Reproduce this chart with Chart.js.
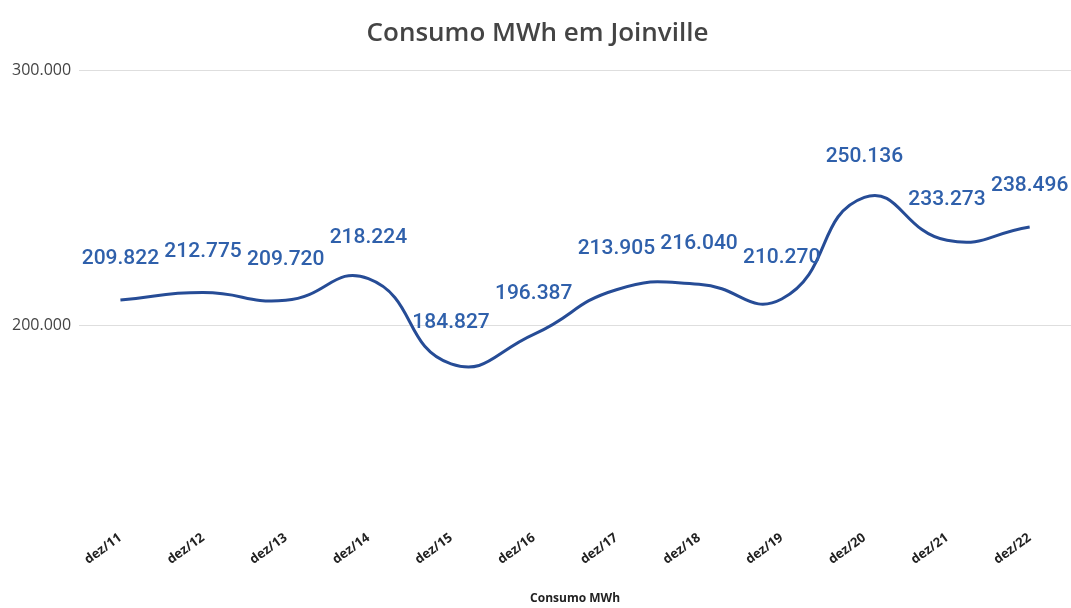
<!DOCTYPE html>
<html lang="pt-BR">
<head>
<meta charset="utf-8">
<title>Consumo MWh em Joinville</title>
<script src="https://cdn.jsdelivr.net/npm/chart.js@4/dist/chart.umd.min.js"></script>
<style>
  html, body { margin: 0; padding: 0; background: #fff; }
  #wrap { width: 1071px; height: 608px; }
</style>
</head>
<body>
<div id="wrap"><canvas id="consumoChart"></canvas></div>
<script>
// Consumo anual (MWh), fechamento de dezembro
const meses = ["dez/11", "dez/12", "dez/13", "dez/14", "dez/15", "dez/16",
  "dez/17", "dez/18", "dez/19", "dez/20", "dez/21", "dez/22"];
const consumo = [209822, 212775, 209720, 218224, 184827, 196387,
  213905, 216040, 210270, 250136, 233273, 238496];
const yTicks = [200000, 300000];

// 209822 -> "209.822"
function formatMil(v) {
  return String(v).replace(/\B(?=(\d{3})+(?!\d))/g, ".");
}

// Escreve o valor acima de cada ponto
const valueLabels = {
  id: "valueLabels",
  afterDatasetsDraw(chart) {
    const ctx = chart.ctx;
    const meta = chart.getDatasetMeta(0);
    ctx.save();
    ctx.font = "500 21px Roboto";
    ctx.fillStyle = "#2f60ab";
    ctx.textAlign = "center";
    ctx.textBaseline = "middle";
    meta.data.forEach((pt, i) => {
      ctx.fillText(formatMil(consumo[i]), pt.x, pt.y - 41);
    });
    ctx.restore();
  },
};

const ctx = document.getElementById("consumoChart").getContext("2d");
new Chart(ctx, {
  type: "line",
  data: {
    labels: meses,
    datasets: [
      {
        label: "Consumo MWh",
        data: consumo,
        borderColor: "#264c96",
        borderWidth: 3,
        tension: 0.5,
        pointRadius: 0,
        fill: false,
      },
    ],
  },
  options: {
    responsive: true,
    maintainAspectRatio: false,
    animation: false,
    layout: {
      padding: { left: 4, right: 0, bottom: 2 },
    },
    scales: {
      y: {
        min: 122000,
        max: 300000,
        afterBuildTicks: (axis) => {
          axis.ticks = yTicks.map((v) => ({ value: v }));
        },
        ticks: {
          color: "#444",
          padding: 8,
          font: { family: "Open Sans", size: 16 },
          callback: (v) => formatMil(v),
        },
        grid: {
          color: "#dedede",
          drawTicks: false,
        },
        border: { display: false },
      },
      x: {
        offset: true,
        ticks: {
          color: "#222",
          minRotation: 36,
          maxRotation: 36,
          padding: 6,
          font: { family: "Open Sans", size: 13, weight: "bold" },
        },
        grid: { display: false, drawTicks: false },
        border: { display: false },
        title: {
          display: true,
          text: "Consumo MWh",
          color: "#222",
          padding: { top: 18, bottom: 0 },
          font: { family: "Open Sans", size: 12, weight: "bold" },
        },
      },
    },
    plugins: {
      legend: { display: false },
      tooltip: { enabled: false },
      title: {
        display: true,
        text: "Consumo MWh em Joinville",
        color: "#444",
        padding: { top: 18, bottom: 21 },
        font: { family: "Open Sans", size: 26, weight: "600" },
      },
    },
  },
  plugins: [valueLabels],
});
</script>
</body>
</html>
